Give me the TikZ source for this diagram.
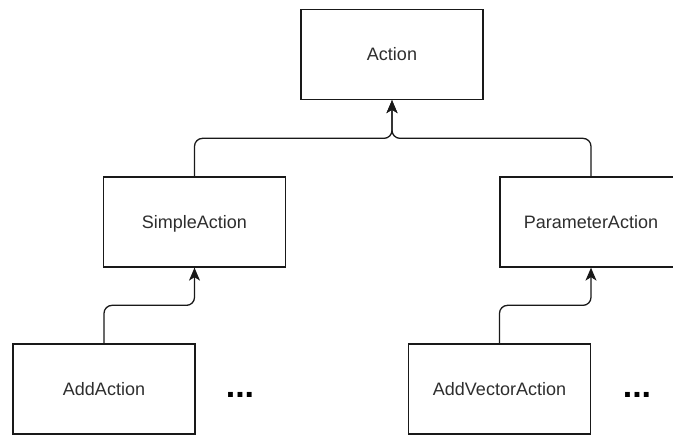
\documentclass[tikz,border=0pt]{standalone}
\usepackage{fontspec}
\setmainfont{Liberation Sans}
\usetikzlibrary{arrows.meta}
\begin{document}
\begin{tikzpicture}[x=1pt,y=1pt,
  classbox/.style={draw=black!90, line width=1.3pt, fill=white,
    minimum width=182pt, minimum height=90pt, inner sep=0pt,
    text height=12.9pt, text depth=0pt,
    text=black!82, font=\fontsize{18}{21}\selectfont},
  inherit/.style={draw=black!90, line width=1.3pt, rounded corners=8pt,
    -{Stealth[length=13pt,width=11pt,inset=3.5pt]}},
  more/.style={inner sep=0pt, text=black, font=\fontsize{34}{36}\selectfont\bfseries}]
  \useasboundingbox (0,0) rectangle (673,-435);
  \clip (0,0) rectangle (673,-435);

  % class boxes
  \node[classbox] (action) at (392,-54.5) {Action};
  \node[classbox] (simple) at (194.5,-222) {SimpleAction};
  \node[classbox] (param)  at (591,-222) {ParameterAction};
  \node[classbox] (add)    at (104,-389) {AddAction};
  \node[classbox] (addvec) at (499.5,-389) {AddVectorAction};

  % further subclasses
  \node[more] (moresimple) at (240,-395) {...};
  \node[more] (moreparam)  at (637,-395) {...};

  % inheritance connectors
  \draw[inherit] (simple.north) -- ++(0,38) -| (action.south);
  \draw[inherit] (param.north)  -- ++(0,38) -| (action.south);
  \draw[inherit] (add.north)    -- ++(0,38) -| (simple.south);
  \draw[inherit] (addvec.north) -- ++(0,38) -| (param.south);
\end{tikzpicture}
\end{document}
